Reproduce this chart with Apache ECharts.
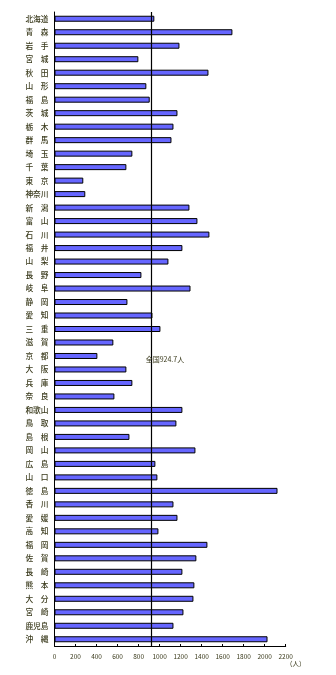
<!DOCTYPE html>
<html>
<head>
<meta charset="utf-8">
<script src="https://cdn.jsdelivr.net/npm/echarts@6/dist/echarts.min.js"></script>
<style>
html,body{margin:0;padding:0;background:#fff;}
#chart{width:336px;height:675px;}
</style>
</head>
<body>
<div id="chart"></div>
<script>
const categories = ["北海道","青　森","岩　手","宮　城","秋　田","山　形","福　島","茨　城","栃　木","群　馬","埼　玉","千　葉","東　京","神奈川","新　潟","富　山","石　川","福　井","山　梨","長　野","岐　阜","静　岡","愛　知","三　重","滋　賀","京　都","大　阪","兵　庫","奈　良","和歌山","鳥　取","島　根","岡　山","広　島","山　口","徳　島","香　川","愛　媛","高　知","福　岡","佐　賀","長　崎","熊　本","大　分","宮　崎","鹿児島","沖　縄"];
const values = [950,1693,1189,798,1465,874,906,1170,1132,1113,741,684,274,293,1284,1360,1474,1217,1084,827,1294,694,932,1008,560,408,684,741,570,1217,1160,713,1341,960,979,2122,1132,1170,989,1455,1350,1217,1331,1322,1227,1132,2027];
const nationalValue = 924.7;
const nationalLabel = "全国924.7人";
const nationalRow = "京　都";
const xTicks = {min: 0, max: 2200, interval: 200};
const unitLabel = "（人）";

const textColor = '#3a3a1c';
const font = '"Noto Sans CJK JP", "Noto Sans", sans-serif';
const chart = echarts.init(document.getElementById('chart'), null, {renderer: 'canvas'});
chart.setOption({
  animation: false,
  backgroundColor: '#fff',
  grid: {left: 54.5, right: 50.3, top: 12, bottom: 29, containLabel: false},
  xAxis: {
    type: 'value', min: xTicks.min, max: xTicks.max, interval: xTicks.interval,
    axisLine: {show: true, lineStyle: {color: '#000', width: 1}},
    axisTick: {show: true, inside: true, length: 2, lineStyle: {color: '#000'}},
    splitLine: {show: false},
    axisLabel: {color: textColor, fontSize: 6.5, fontFamily: font, margin: 7,
      formatter: function (v) { return String(v); }}
  },
  yAxis: {
    type: 'category', data: categories, inverse: true,
    axisLine: {show: true, lineStyle: {color: '#000', width: 1}},
    axisTick: {show: false},
    axisLabel: {color: textColor, fontSize: 7.7, fontFamily: font, fontWeight: 500, margin: 6, interval: 0}
  },
  graphic: [{
    type: 'text', left: 286, top: 660,
    style: {text: unitLabel, fill: textColor, fontSize: 6.5, fontFamily: font}
  }],
  series: [{
    type: 'bar', data: values, barWidth: 6,
    itemStyle: {color: '#6666ff', borderColor: '#000', borderWidth: 1},
    markLine: {
      silent: true, symbol: 'none',
      label: {show: false},
      lineStyle: {color: '#000', width: 1.2, type: 'solid'},
      data: [{xAxis: nationalValue}]
    },
    markPoint: {
      silent: true,
      symbol: 'rect', symbolSize: 0,
      label: {show: true, formatter: nationalLabel, position: 'inside', align: 'left', offset: [-6, 3],
        color: textColor, fontSize: 7, fontFamily: font},
      data: [{coord: [nationalValue, nationalRow]}]
    }
  }]
});
</script>
</body>
</html>
